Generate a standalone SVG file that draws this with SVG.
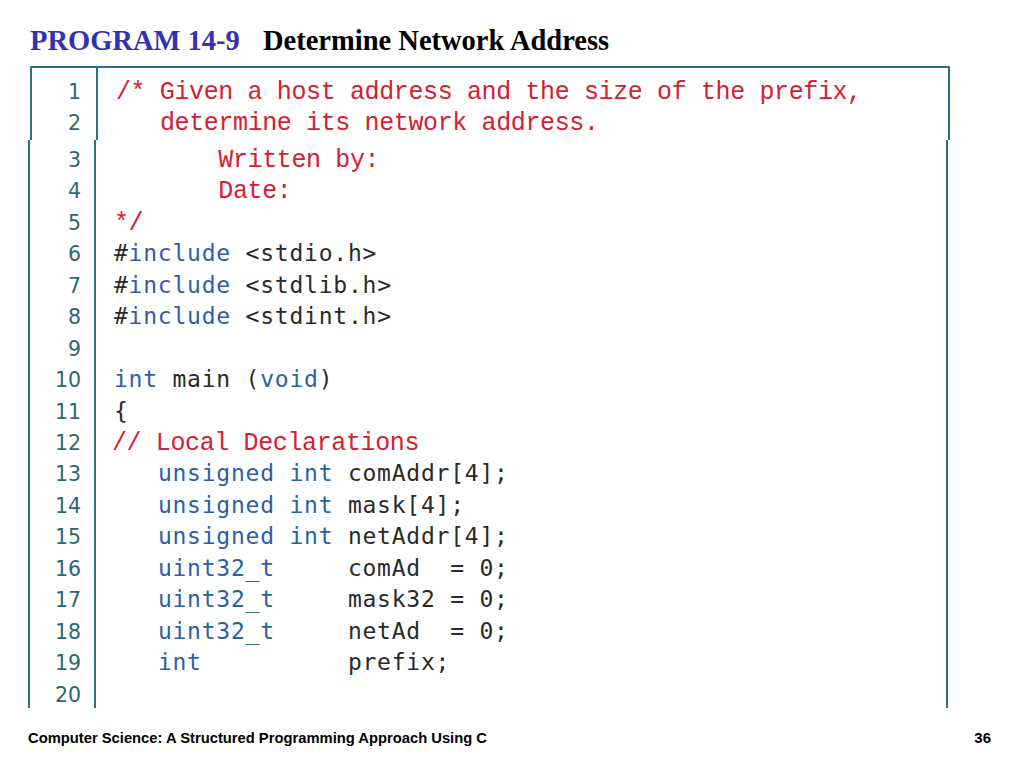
<svg xmlns="http://www.w3.org/2000/svg" width="1024" height="768" viewBox="0 0 1024 768">
<style>
.bd{fill:none;stroke:#2a7280;stroke-width:2}
.ln{font-family:"DejaVu Sans",Verdana,sans-serif;font-size:20.5px;fill:#2d6872;text-anchor:end}
.cm{font-family:"Liberation Mono","Courier New",monospace;font-size:25px;letter-spacing:-0.38px;fill:#d42030}
.cd{font-family:"DejaVu Sans Mono",monospace;font-size:23px;letter-spacing:0.77px;fill:#2a2a2a}
.kw{fill:#2e5ea8}
.tt{font-family:"Liberation Serif","Times New Roman",serif;font-weight:bold;font-size:28.5px}
.ft{font-family:"Liberation Sans",Arial,sans-serif;font-weight:bold;font-size:15px;fill:#000}
</style>
<rect width="1024" height="768" fill="#fff"/>
<g id="title">
<text class="tt" x="30" y="50" fill="#3333b0">PROGRAM 14-9</text>
<text class="tt" x="263" y="50" fill="#000">Determine Network Address</text>
</g>
<g id="frame">
<path class="bd" d="M31,140 V67 H949 V140 M97,67 V140"/>
<path class="bd" d="M29,140 V708 M95,140 V708 M947,140 V708"/>
</g>
<g id="line-numbers">
<text class="ln" x="81" y="99">1</text>
<text class="ln" x="81" y="130">2</text>
<text class="ln" x="81" y="167">3</text>
<text class="ln" x="81" y="198.4">4</text>
<text class="ln" x="81" y="229.9">5</text>
<text class="ln" x="81" y="261.3">6</text>
<text class="ln" x="81" y="292.8">7</text>
<text class="ln" x="81" y="324.2">8</text>
<text class="ln" x="81" y="355.6">9</text>
<text class="ln" x="81" y="387.1">10</text>
<text class="ln" x="81" y="418.5">11</text>
<text class="ln" x="81" y="450">12</text>
<text class="ln" x="81" y="481.4">13</text>
<text class="ln" x="81" y="512.8">14</text>
<text class="ln" x="81" y="544.3">15</text>
<text class="ln" x="81" y="575.7">16</text>
<text class="ln" x="81" y="607.2">17</text>
<text class="ln" x="81" y="638.6">18</text>
<text class="ln" x="81" y="670">19</text>
<text class="ln" x="81" y="701.5">20</text>
</g>
<g id="code">
<text class="cm" x="116" y="99">/* Given a host address and the size of the prefix,</text>
<text class="cm" x="159.9" y="130">determine its network address.</text>
<text class="cm" x="218.3" y="167">Written by:</text>
<text class="cm" x="218.3" y="198.4">Date:</text>
<text class="cm" x="114" y="229.9">*/</text>
<text class="cd" x="114" y="261.3">#</text><text class="cd kw" x="128.6" y="261.3">include</text><text class="cd" x="245.6" y="261.3">&lt;stdio.h&gt;</text>
<text class="cd" x="114" y="292.8">#</text><text class="cd kw" x="128.6" y="292.8">include</text><text class="cd" x="245.6" y="292.8">&lt;stdlib.h&gt;</text>
<text class="cd" x="114" y="324.2">#</text><text class="cd kw" x="128.6" y="324.2">include</text><text class="cd" x="245.6" y="324.2">&lt;stdint.h&gt;</text>
<text class="cd kw" x="114" y="387.1">int</text><text class="cd" x="172.5" y="387.1">main (</text><text class="cd kw" x="260.2" y="387.1">void</text><text class="cd" x="318.7" y="387.1">)</text>
<text class="cd" x="114" y="418.5">{</text>
<text class="cm" x="112" y="450">// Local Declarations</text>
<text class="cd kw" x="157.9" y="481.4">unsigned int</text><text class="cd" x="347.9" y="481.4">comAddr[4];</text>
<text class="cd kw" x="157.9" y="512.8">unsigned int</text><text class="cd" x="347.9" y="512.8">mask[4];</text>
<text class="cd kw" x="157.9" y="544.3">unsigned int</text><text class="cd" x="347.9" y="544.3">netAddr[4];</text>
<text class="cd kw" x="157.9" y="575.7">uint32_t</text><text class="cd" x="347.9" y="575.7" xml:space="preserve">comAd  = 0;</text>
<text class="cd kw" x="157.9" y="607.2">uint32_t</text><text class="cd" x="347.9" y="607.2">mask32 = 0;</text>
<text class="cd kw" x="157.9" y="638.6">uint32_t</text><text class="cd" x="347.9" y="638.6" xml:space="preserve">netAd  = 0;</text>
<text class="cd kw" x="157.9" y="670">int</text><text class="cd" x="347.9" y="670">prefix;</text>
</g>
<g id="footer">
<text class="ft" x="28" y="743" textLength="459" lengthAdjust="spacingAndGlyphs">Computer Science: A Structured Programming Approach Using C</text>
<text class="ft" x="991" y="743" text-anchor="end">36</text>
</g>
</svg>
